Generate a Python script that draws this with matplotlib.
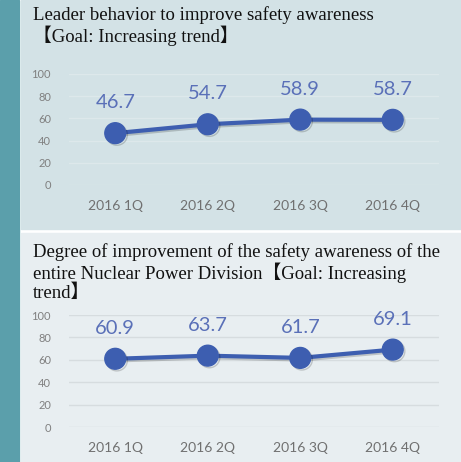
import matplotlib.pyplot as plt
import matplotlib.patheffects as pe
from matplotlib.patches import Rectangle

# chart data
quarters = ['2016 1Q', '2016 2Q', '2016 3Q', '2016 4Q']
leader_values = [46.7, 54.7, 58.9, 58.7]
division_values = [60.9, 63.7, 61.7, 69.1]
y_ticks = [0, 20, 40, 60, 80, 100]

title_top = 'Leader behavior to improve safety awareness\n【Goal: Increasing trend】'
title_bottom = ('Degree of improvement of the safety awareness of the\n'
                'entire Nuclear Power Division【Goal: Increasing\ntrend】')

W, H = 461, 462
fig = plt.figure(figsize=(W / 100, H / 100), dpi=100)
fig.patch.set_facecolor('white')

# background panels
fig.patches.append(Rectangle((0, 0), 19 / W, 1, transform=fig.transFigure,
                             color='#5b9fab', zorder=-10))
fig.patches.append(Rectangle((21 / W, 1 - 229 / H), 1, 229 / H, transform=fig.transFigure,
                             color='#d3e2e6', zorder=-10))
fig.patches.append(Rectangle((21 / W, 0), 1, 1 - 233 / H, transform=fig.transFigure,
                             color='#e8eef1', zorder=-10))

serif = ['Liberation Serif', 'Noto Sans CJK JP']
fig.text(33 / W, 1 - 6 / H, title_top, family=serif, fontsize=13.5, va='top',
         ha='left', linespacing=1.12, color='#111111')
fig.text(33 / W, 1 - 243 / H, title_bottom, family=serif, fontsize=13.5, va='top',
         ha='left', linespacing=1.12, color='#111111')

line_color = '#3d5eb0'
label_color = '#5a70b8'


def draw_panel(rect, values, grid_color):
    ax = fig.add_axes(rect)
    ax.patch.set_alpha(0)
    x = list(range(len(quarters)))
    ax.plot(x, values, color=line_color, lw=3, marker='o', markersize=15,
            clip_on=False, zorder=3,
            path_effects=[pe.SimpleLineShadow(offset=(1.2, -1.2), alpha=0.18),
                          pe.Normal()])
    for xi, v in zip(x, values):
        ax.annotate(f'{v:.1f}', (xi, v), xytext=(0, 22), textcoords='offset points',
                    ha='center', va='center', fontsize=14.5, color=label_color,
                    family='Lato')
    ax.set_xlim(-0.5, 3.5)
    ax.set_ylim(0, 100)
    ax.set_yticks(y_ticks)
    ax.set_xticks(x)
    ax.set_xticklabels(quarters)
    ax.tick_params(axis='y', length=0, pad=13, labelsize=8, labelcolor='#808080')
    ax.tick_params(axis='x', length=0, pad=11, labelsize=10, labelcolor='#707070')
    for lab in ax.get_xticklabels() + ax.get_yticklabels():
        lab.set_family('Lato')
    ax.grid(axis='y', color=grid_color, lw=1)
    ax.set_axisbelow(True)
    for s in ax.spines.values():
        s.set_visible(False)
    return ax


draw_panel([69 / W, 1 - 185 / H, 370 / W, 111 / H], leader_values, '#dde8eb')
draw_panel([69 / W, 1 - 427 / H, 370 / W, 112 / H], division_values, '#d6dcdf')

fig.savefig('out.png', dpi=100)
